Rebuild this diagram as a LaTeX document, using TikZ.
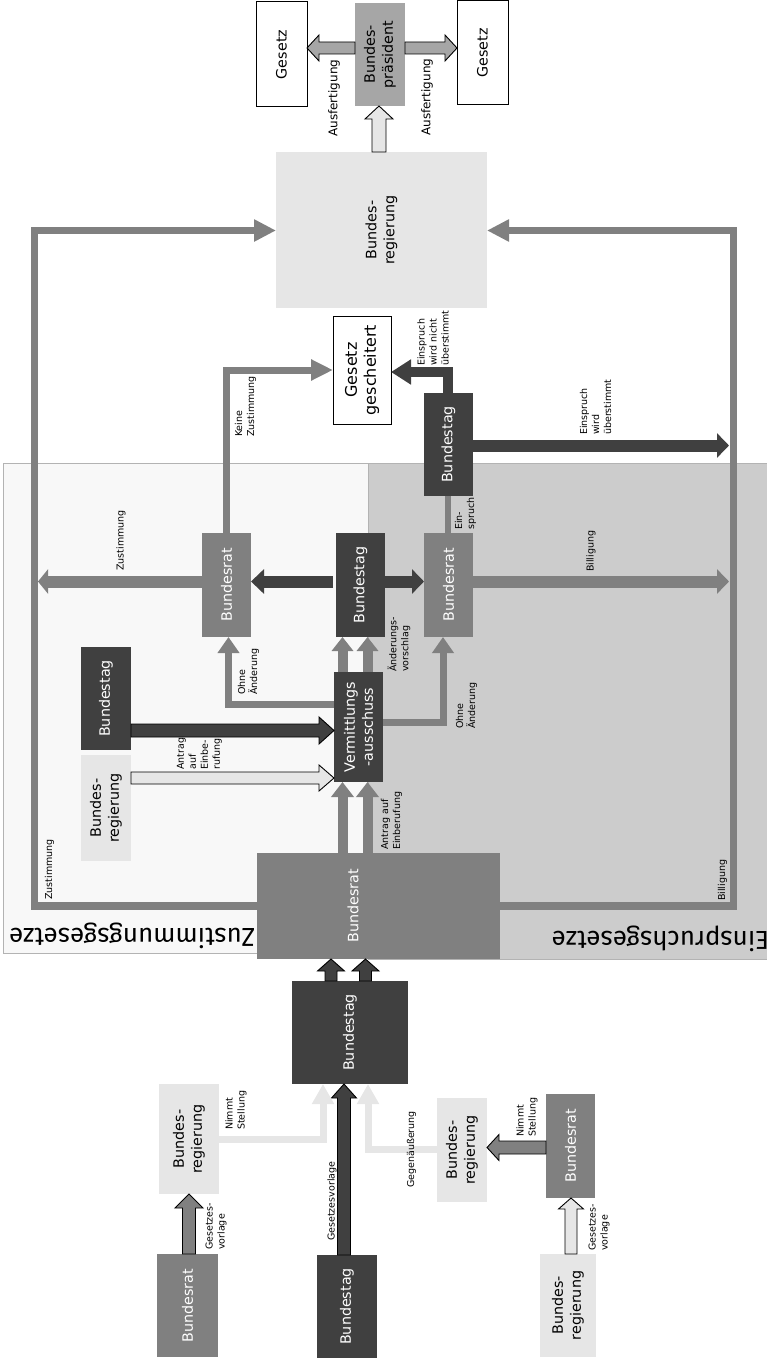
\documentclass[tikz,border=0pt]{standalone}
\usepackage{fontspec}
\setmainfont{DejaVu Sans}
\newfontfamily\regionfont{Fira Sans}
\usetikzlibrary{calc,arrows.meta}
\definecolor{cdark}{HTML}{404040}
\definecolor{cmid}{HTML}{808080}
\definecolor{clight}{HTML}{E6E6E6}
\definecolor{cpres}{HTML}{A6A6A6}
\definecolor{cbgz}{HTML}{F8F8F8}
\definecolor{cbge}{HTML}{CCCCCC}
\definecolor{cbord}{HTML}{B3B3B3}
% box: name, x1, y1, x2, y2, box style, text style, text
\newcommand\mybox[8]{%
  \node[box,#6,minimum width={(#4)-(#2)},minimum height={(#5)-(#3)}] (#1) at ({((#2)+(#4))/2},{((#3)+(#5))/2}) {};
  \node[btxt,#7] (#1t) at (#1.center) {#8};}
% block arrow: style, from, to, half shaft, half head, head length
\newcommand\blockarr[6]{%
  \coordinate (baA) at (#2);
  \coordinate (baB) at (#3);
  \coordinate (baN) at ($(baB)!#6!(baA)$);
  \draw[#1] ($(baA)!#4!90:(baB)$) -- ($(baN)!#4!90:(baB)$) -- ($(baN)!#5!90:(baB)$) -- (baB) -- ($(baN)!#5!-90:(baB)$) -- ($(baN)!#4!-90:(baB)$) -- ($(baA)!#4!-90:(baB)$) -- cycle;}
\begin{document}
\begin{tikzpicture}[x=1pt,y=-1pt,
  box/.style={inner sep=0pt,outer sep=0pt},
  dfill/.style={fill=cdark},
  mfill/.style={fill=cmid},
  lfill/.style={fill=clight},
  pfill/.style={fill=cpres},
  wfill/.style={fill=white,draw=black,line width=1pt},
  btxt/.style={rotate=90,align=center,inner sep=0pt,font=\fontsize{14.3}{18}\selectfont},
  lab/.style={rotate=90,anchor=west,align=left,inner sep=0pt,font=\fontsize{9.5}{12}\selectfont},
  barrow/.style={draw=black,line width=0.9pt,line join=miter},
  midline/.style={draw=cmid,line join=miter},
  darkline/.style={draw=cdark,line join=miter},
  lightline/.style={draw=clight,line join=miter},
  regionlab/.style={anchor=base,rotate=180,inner sep=0pt,font=\regionfont\fontsize{26}{30}\selectfont}]
\useasboundingbox (0,0) rectangle (767,1359);
% regions
\path[fill=cbgz,draw=cbord,line width=0.8pt] (3.5,463) rectangle (368,953.5);
\path[fill=cbge,draw=cbord,line width=0.8pt] (767,463) -- (368,463) -- (368,959) -- (767,959);
\node[regionlab] (zlab) at (132,928.3) {Zustimmungsgesetze};
\node[regionlab] (elab) at (660.5,931.7) {Einspruchsgesetze};
% boxes
\mybox{gesL}{256}{2}{307}{107}{wfill}{text=black}{Gesetz}
\mybox{bp}{355}{3}{405}{106}{pfill}{text=black}{Bundes-\\präsident}
\mybox{gesR}{457}{1}{508}{105}{wfill}{text=black}{Gesetz}
\mybox{bregT}{276}{152}{487}{308}{lfill}{text=black}{Bundes-\\regierung}
\mybox{gesch}{333}{316}{391}{424}{wfill}{text=black,font=\fontsize{16}{19}\selectfont}{Gesetz\\gescheitert}
\mybox{btU}{424}{393}{473}{496}{dfill}{text=white}{Bundestag}
\mybox{brZ}{202}{533}{251}{637}{mfill}{text=white}{Bundesrat}
\mybox{btM}{336}{533}{385}{637}{dfill}{text=white}{Bundestag}
\mybox{brE}{424}{533}{473}{637}{mfill}{text=white}{Bundesrat}
\mybox{btS}{81}{647}{131}{750}{dfill}{text=white}{Bundestag}
\mybox{va}{334}{672}{383}{782}{dfill}{text=white}{Vermittlungs\\-ausschuss}
\mybox{bregS}{81}{755}{131}{861}{lfill}{text=black}{Bundes-\\regierung}
\node[box,mfill,minimum width=243,minimum height=106] (brBig) at (378.5,906) {};
\node[btxt,text=white] (brBigt) at (353,906) {Bundesrat};
\mybox{btL}{292}{981}{408}{1084}{dfill}{text=white}{Bundestag}
\mybox{bregL}{159}{1084}{219}{1194}{lfill}{text=black}{Bundes-\\regierung}
\mybox{bregR}{437}{1098}{487}{1202}{lfill}{text=black}{Bundes-\\regierung}
\mybox{brR}{546}{1094}{595}{1198}{mfill}{text=white}{Bundesrat}
\mybox{brBL}{157}{1254}{218}{1357}{mfill}{text=white}{Bundesrat}
\mybox{btB}{317}{1255}{377}{1358}{dfill}{text=white}{Bundestag}
\mybox{bregB}{540}{1254}{596}{1357}{lfill}{text=black}{Bundes-\\regierung}
% helper coordinates
\coordinate (y48) at (0,48);
\coordinate (x379) at (379,0);
\coordinate (y906) at (0,906);
\coordinate (zc) at (34.5,230.5);
\coordinate (bc) at (733.5,230.5);
\coordinate (y370) at (0,370);
\coordinate (y372) at (0,372);
\coordinate (x447) at (447.5,0);
\coordinate (ueb) at (729,445.5);
\coordinate (x448) at (448,0);
\coordinate (y582) at (0,581.5);
\coordinate (zm) at (38,581.5);
\coordinate (bm) at (729,581.5);
\coordinate (y730) at (0,730.5);
\coordinate (y778) at (0,778);
\coordinate (xa) at (342.5,0);
\coordinate (xb) at (367.5,0);
\coordinate (y704) at (0,704);
\coordinate (x228) at (228.5,0);
\coordinate (y722) at (0,722);
\coordinate (x443) at (443,0);
\coordinate (xc) at (331,0);
\coordinate (xd) at (365.5,0);
\coordinate (x189) at (189,0);
\coordinate (x344) at (344,0);
\coordinate (y1139) at (0,1139.5);
\coordinate (x323) at (323,0);
\coordinate (y1149) at (0,1149.5);
\coordinate (x368) at (368,0);
\coordinate (y1147) at (0,1147.5);
\coordinate (x571) at (571,0);
% top block arrows
\blockarr{barrow,fill=cpres}{bp.west |- y48}{gesL.east |- y48}{6pt}{13pt}{12pt}
\blockarr{barrow,fill=cpres}{bp.east |- y48}{gesR.west |- y48}{6pt}{13pt}{12pt}
\blockarr{barrow,fill=clight}{bregT.north -| x379}{bp.south -| x379}{7pt}{14pt}{13pt}
% outer loops to Bundesregierung
\draw[midline,line width=7.5pt,-{Triangle[length=22pt,width=21pt]}] (brBig.west |- y906) -| (zc) -- (bregT.west |- zc);
\draw[midline,line width=7.5pt,-{Triangle[length=22pt,width=21pt]}] (brBig.east |- y906) -| (bc) -- (bregT.east |- bc);
% Gesetz gescheitert
\draw[midline,line width=7pt,-{Triangle[length=22pt,width=20pt]}] (brZ.north) |- (gesch.west |- y370);
\draw[darkline,line width=10pt,-{Triangle[length=20pt,width=24pt]}] (btU.north -| x447) |- (gesch.east |- y372);
\draw[darkline,line width=12pt,-{Triangle[length=12pt,width=24pt]}] (btU.east |- ueb) -- (ueb);
\draw[midline,line width=6pt] (brE.north -| x448) -- (btU.south -| x448);
% middle row
\draw[midline,line width=12pt,-{Triangle[length=10pt,width=24pt]}] (brZ.west |- y582) -- (zm);
\draw[darkline,line width=12pt,-{Triangle[length=13pt,width=24pt]}] ($(btM.west |- y582)+(-3,0)$) -- (brZ.east |- y582);
\draw[darkline,line width=12pt,-{Triangle[length=12pt,width=24pt]}] (btM.east |- y582) -- (brE.west |- y582);
\draw[midline,line width=12pt,-{Triangle[length=12pt,width=24pt]}] (brE.east |- y582) -- (bm);
% Vermittlungsausschuss
\blockarr{barrow,fill=cdark}{btS.east |- y730}{va.west |- y730}{6.5pt}{13.5pt}{15pt}
\blockarr{barrow,fill=clight}{bregS.east |- y778}{va.west |- y778}{6pt}{13pt}{15pt}
\draw[midline,line width=10pt,-{Triangle[length=15pt,width=22pt]}] (brBig.north -| xa) -- (va.south -| xa);
\draw[midline,line width=10pt,-{Triangle[length=15pt,width=22pt]}] (brBig.north -| xb) -- (va.south -| xb);
\draw[midline,line width=10pt,-{Triangle[length=14pt,width=21pt]}] (va.north -| xa) -- (btM.south -| xa);
\draw[midline,line width=10pt,-{Triangle[length=14pt,width=21pt]}] (va.north -| xb) -- (btM.south -| xb);
\draw[midline,line width=7pt,-{Triangle[length=16pt,width=21pt]}] (va.west |- y704) -| (brZ.south -| x228);
\draw[midline,line width=7pt,-{Triangle[length=16pt,width=21pt]}] (va.east |- y722) -| (brE.south -| x443);
% Bundestag to Bundesrat
\blockarr{barrow,fill=cdark}{btL.north -| xc}{brBig.south -| xc}{6pt}{13.5pt}{12pt}
\blockarr{barrow,fill=cdark}{btL.north -| xd}{brBig.south -| xd}{6pt}{13.5pt}{12pt}
% bottom part
\blockarr{barrow,fill=cmid}{brBL.north -| x189}{bregL.south -| x189}{6.5pt}{14pt}{14pt}
\blockarr{barrow,fill=cdark}{btB.north -| x344}{btL.south -| x344}{6.5pt}{12.5pt}{14pt}
\draw[lightline,line width=7pt,-{Triangle[length=20pt,width=21pt]}] (bregL.east |- y1139) -| (btL.south -| x323);
\draw[lightline,line width=7pt,-{Triangle[length=20pt,width=21pt]}] (bregR.west |- y1149) -| (btL.south -| x368);
\blockarr{barrow,fill=cmid}{brR.west |- y1147}{bregR.east |- y1147}{6.5pt}{13pt}{12pt}
\blockarr{barrow,fill=clight}{bregB.north -| x571}{brR.south -| x571}{6pt}{12.5pt}{11pt}
% labels
\node[lab,font=\fontsize{12}{14}\selectfont] (l1) at (334,137) {Ausfertigung};
\node[lab,font=\fontsize{12}{14}\selectfont] (l2) at (427,136) {Ausfertigung};
\node[lab] (l3) at (245.5,437) {Keine\\Zustimmung};
\node[lab] (l4) at (433,366) {Einspruch\\wird nicht\\überstimmt};
\node[lab] (l5) at (595.5,435) {Einspruch\\wird\\überstimmt};
\node[lab] (l6) at (465.5,530) {Ein-\\spruch};
\node[lab] (l7) at (121,571) {Zustimmung};
\node[lab] (l8) at (591,572) {Billigung};
\node[lab] (l9) at (399,672) {Änderungs-\\vorschlag};
\node[lab] (l10) at (248.5,695) {Ohne\\Änderung};
\node[lab] (l11) at (466.5,729) {Ohne\\Änderung};
\node[lab] (l12) at (199.5,770) {Antrag\\auf\\Einbe-\\rufung};
\node[lab] (l13) at (391.5,850) {Antrag auf\\Einberufung};
\node[lab] (l14) at (49.5,900) {Zustimmung};
\node[lab] (l15) at (722.5,901) {Billigung};
\node[lab] (l16) at (332,1241) {Gesetzesvorlage};
\node[lab] (l17) at (216,1250) {Gesetzes-\\vorlage};
\node[lab] (l18) at (599,1251) {Gesetzes-\\vorlage};
\node[lab] (l19) at (236,1130) {Nimmt\\Stellung};
\node[lab] (l20) at (527,1137) {Nimmt\\Stellung};
\node[lab] (l21) at (411.5,1188) {Gegenäußerung};
\end{tikzpicture}
\end{document}
